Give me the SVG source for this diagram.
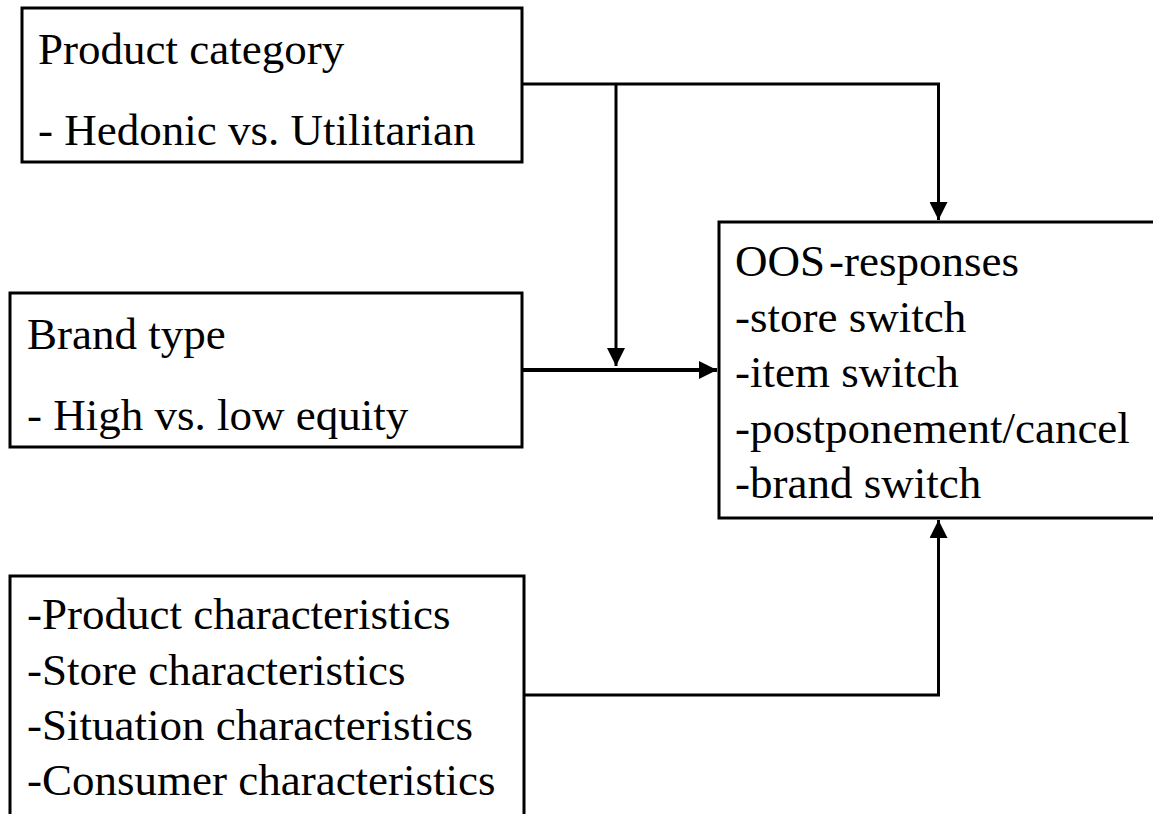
<svg xmlns="http://www.w3.org/2000/svg" width="1153" height="814" viewBox="0 0 1153 814">
<style>
.box{fill:#fff;stroke:#000;stroke-width:3}
.t{font-family:"Liberation Serif","Times New Roman",serif;font-size:45px;fill:#000}
.c{fill:none;stroke:#000;stroke-width:3}
.thick{stroke-width:4}
</style>
<defs>
<marker id="ah" markerUnits="userSpaceOnUse" markerWidth="18" markerHeight="18" refX="18" refY="9" orient="auto" viewBox="0 0 18 18">
<path d="M0,0 L18,9 L0,18 z" fill="#000"/>
</marker>
</defs>
<rect width="1153" height="814" fill="#fff"/>
<g id="connectors">
<path class="c" d="M523,84 H938.5 V220" marker-end="url(#ah)"/>
<path class="c" d="M616,84 V366" marker-end="url(#ah)"/>
<path class="c thick" d="M523,370 H717" marker-end="url(#ah)"/>
<path class="c" d="M524,695 H938.5 V520" marker-end="url(#ah)"/>
</g>
<g id="product-category">
<rect class="box" x="22" y="8" width="500" height="154"/>
<text class="t" x="38" y="64">Product category</text>
<text class="t" x="38" y="145">- Hedonic vs. Utilitarian</text>
</g>
<g id="brand-type">
<rect class="box" x="10" y="293" width="512" height="154"/>
<text class="t" x="27" y="349">Brand type</text>
<text class="t" x="27" y="430">- High vs. low equity</text>
</g>
<g id="characteristics">
<rect class="box" x="10" y="576" width="514" height="250"/>
<text class="t" x="27" y="629">-Product characteristics</text>
<text class="t" x="27" y="685">-Store characteristics</text>
<text class="t" x="27" y="740">-Situation characteristics</text>
<text class="t" x="27" y="795">-Consumer characteristics</text>
</g>
<g id="oos-responses">
<rect class="box" x="719" y="222" width="450" height="296"/>
<text class="t" x="735" y="276">OOS<tspan dx="4">-responses</tspan></text>
<text class="t" x="735" y="332">-store switch</text>
<text class="t" x="735" y="387">-item switch</text>
<text class="t" x="735" y="443">-postponement/cancel</text>
<text class="t" x="735" y="498">-brand switch</text>
</g>
</svg>
